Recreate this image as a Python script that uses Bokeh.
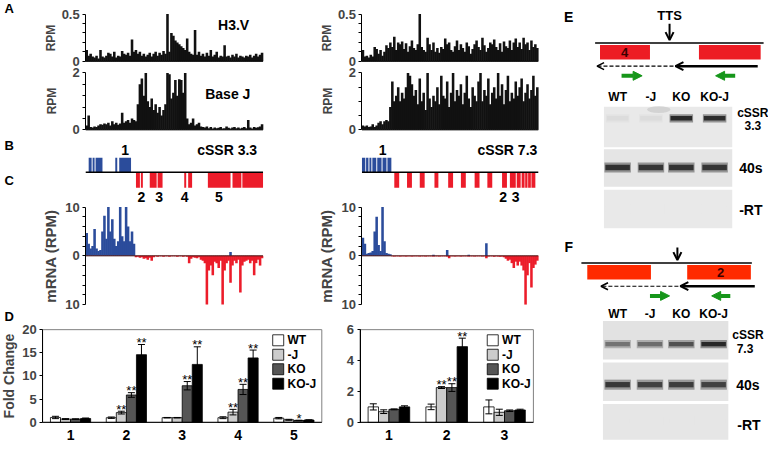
from bokeh.plotting import figure
from bokeh.models import (Range1d, LinearAxis, FixedTicker, Arrow, OpenHead, NormalHead)
from bokeh.embed import file_html
from bokeh.resources import INLINE
from bokeh.core.properties import value

FONT = "Liberation Sans"
BLUE = "#2b4c9b"
RED = "#ec1c2a"
GREEN = "#16961a"

# ---------------- DATA ----------------
# A: ChIP tracks, 90 bins each (RPM)
h3v_left = [0.12, 0.06, 0.08, 0.05, 0.04, 0.06, 0.03, 0.12, 0.05, 0.04,
            0.06, 0.09, 0.08, 0.05, 0.10, 0.04, 0.06, 0.05, 0.11, 0.08,
            0.07, 0.09, 0.06, 0.23, 0.10, 0.12, 0.08, 0.10, 0.06, 0.08,
            0.05, 0.07, 0.09, 0.05, 0.08, 0.10, 0.06, 0.09, 0.07, 0.11,
            0.08, 0.50, 0.10, 0.30, 0.27, 0.22, 0.20, 0.18, 0.16, 0.14,
            0.12, 0.24, 0.10, 0.08, 0.07, 0.33, 0.07, 0.10, 0.06, 0.08,
            0.05, 0.09, 0.06, 0.12, 0.05, 0.07, 0.10, 0.04, 0.06, 0.05,
            0.17, 0.05, 0.06, 0.04, 0.07, 0.05, 0.08, 0.04, 0.06, 0.05,
            0.04, 0.06, 0.05, 0.07, 0.04, 0.06, 0.08, 0.05, 0.07, 0.09]
basej_left = [0.15, 0.50, 0.10, 0.08, 0.12, 0.10, 0.15, 0.20, 0.18, 0.22,
              0.20, 0.25, 0.15, 0.30, 0.20, 0.25, 0.18, 0.22, 0.60, 0.25,
              0.30, 0.35, 0.25, 0.40, 0.35, 0.30, 0.90, 1.60, 1.80, 1.20,
              2.00, 1.00, 0.80, 1.10, 0.70, 0.90, 0.60, 0.80, 0.50, 0.70,
              0.90, 2.00, 1.95, 1.10, 1.30, 1.75, 1.20, 1.78, 1.75, 1.30,
              2.00, 0.40, 0.20, 0.25, 0.40, 0.15, 0.20, 0.25, 0.12, 0.10,
              0.08, 0.12, 0.06, 0.10, 0.05, 0.08, 0.06, 0.07, 0.10, 0.05,
              0.06, 0.12, 0.07, 0.05, 0.08, 0.10, 0.06, 0.08, 0.05, 0.07,
              0.10, 0.06, 0.35, 0.08, 0.05, 0.10, 0.07, 0.09, 0.12, 0.20]
h3v_right = [0.12, 0.05, 0.06, 0.04, 0.07, 0.05, 0.15, 0.13, 0.08, 0.12,
             0.06, 0.10, 0.17, 0.14, 0.20, 0.15, 0.26, 0.12, 0.20, 0.18,
             0.21, 0.13, 0.19, 0.10, 0.16, 0.22, 0.14, 0.12, 0.18, 0.50,
             0.15, 0.12, 0.10, 0.25, 0.18, 0.12, 0.20, 0.10, 0.14, 0.09,
             0.15, 0.13, 0.24, 0.18, 0.20, 0.12, 0.10, 0.16, 0.22, 0.12,
             0.18, 0.14, 0.10, 0.20, 0.16, 0.08, 0.13, 0.18, 0.22, 0.15,
             0.12, 0.25, 0.17, 0.10, 0.14, 0.20, 0.18, 0.23, 0.15, 0.12,
             0.19, 0.10, 0.21, 0.16, 0.14, 0.22, 0.12, 0.20, 0.24, 0.15,
             0.20, 0.13, 0.25, 0.18, 0.20, 0.12, 0.22, 0.15, 0.18, 0.14]
basej_right = [0.15, 0.12, 0.15, 0.10, 0.12, 0.20, 0.10, 0.15, 0.25, 0.30,
               0.20, 0.30, 0.35, 0.30, 0.80, 1.70, 1.00, 1.20, 1.50, 1.00,
               1.30, 1.10, 1.50, 2.00, 1.90, 1.60, 1.20, 1.40, 0.90, 1.80,
               1.00, 1.30, 0.70, 2.00, 1.10, 0.80, 1.20, 1.00, 1.50, 0.90,
               1.90, 1.20, 1.10, 1.70, 0.80, 1.30, 2.00, 1.00, 1.40, 1.20,
               1.60, 0.90, 1.30, 1.90, 1.10, 0.80, 1.50, 1.20, 1.00, 1.70,
               2.00, 1.00, 1.40, 1.20, 1.80, 0.90, 1.30, 1.50, 1.10, 2.00,
               1.20, 1.60, 0.90, 1.40, 1.90, 1.00, 1.30, 1.10, 1.70, 1.20,
               1.50, 1.80, 1.00, 1.30, 1.60, 1.10, 1.40, 1.90, 1.20, 1.50]

# B: gene maps (bin units). plus strand (blue, above), minus strand (red, below)
genes_left_plus_start = [1.5, 3.5, 5.0, 15.0, 17.0]
genes_left_plus_end = [3.0, 4.5, 8.5, 16.0, 23.0]
genes_left_minus_start = [25.5, 28.0, 32.5, 36.5, 50.0, 52.0, 62.0, 74.5, 79.5]
genes_left_minus_end = [27.5, 29.0, 36.0, 39.0, 51.0, 54.0, 73.5, 79.0, 90.0]
genes_right_plus_start = [0.0, 2.1, 3.8, 5.3, 7.8, 10.5, 13.0]
genes_right_plus_end = [1.7, 3.3, 4.8, 7.3, 10.0, 12.5, 15.0]
genes_right_minus_start = [16.5, 23.0, 29.5, 37.0, 44.0, 50.5, 57.5, 64.0, 71.5, 75.5, 79.0, 81.5, 83.3, 84.8, 86.5]
genes_right_minus_end = [19.0, 25.5, 32.0, 39.0, 46.5, 53.0, 60.0, 66.5, 74.0, 78.5, 81.0, 83.0, 84.5, 86.2, 88.5]
gene_left_names = ["1", "2", "3", "4", "5"]
gene_left_name_pos = [20.0, 28.3, 37.3, 50.2, 67.6]
gene_right_names = ["1", "2", "3"]
gene_right_name_pos = [10.5, 72.0, 78.5]

# C: mRNA tracks (RPM), plus (blue) and minus (red) strand, 90 bins
c_left_pos = [4.7, 2.5, 1.5, 2.0, 5.5, 1.5, 1.0, 1.2, 5.0, 8.2,
              3.5, 10.0, 5.0, 7.5, 3.5, 2.0, 3.0, 10.0, 4.0, 3.0,
              10.0, 6.0, 3.0, 5.0, 2.5, 0, 0, 0, 0, 0,
              0, 0, 0, 0, 0, 0, 0, 0, 0, 0,
              0, 0, 0, 0, 0, 0, 0, 0, 0, 0,
              0, 0, 0, 0, 0, 0, 0, 0, 0, 0,
              0, 0, 0, 0, 0, 0, 0, 0, 0, 0,
              0, 0, 0, 0.8, 0, 0, 0, 0, 0, 0,
              0, 0, 0, 0, 0, 0, 0, 0, 0, 0]
c_left_neg = [0, 0, 0, 0, 0, 0, 0, 0, 0, 0,
              0, 0, 0, 0, 0, 0, 0, 0, 0, 0,
              0, 0, 0, 0, 0, -0.3, -0.2, -0.4, -0.3, -0.6,
              -0.5, -0.8, -0.4, -1.0, -0.3, -0.1, -0.2, -0.1, -0.1, -0.2,
              -0.1, -0.1, -0.2, -0.1, -0.1, -0.1, -0.2, -0.1, -0.1, -0.2,
              -0.1, -0.2, -1.5, -0.6, -0.3, -0.4, -0.5, -0.3, -0.8, -1.0,
              -1.5, -10.0, -3.0, -2.0, -4.0, -1.2, -1.5, -2.5, -1.0, -10.0,
              -3.0, -1.5, -1.0, -5.5, -2.0, -1.0, -1.5, -0.8, -7.5, -2.0,
              -1.2, -1.0, -0.8, -1.5, -1.0, -4.0, -1.5, -0.8, -2.0, -0.5]
c_right_pos = [3.7, 2.5, 0.4, 0.6, 0.7, 1.0, 5.0, 8.0, 2.2, 1.0,
               10.0, 3.0, 0.6, 0.4, 0.3, 0, 0, 0, 0, 0,
               0, 0, 0, 0, 0, 0, 0, 0, 0, 0,
               0, 0, 0, 0, 0, 0, 0.2, 0, 0, 0,
               0, 0, 0, 1.2, 0, 0, 0, 0, 0, 0,
               0, 0, 0, 0, 0.2, 0, 0, 0, 0, 0,
               0, 0, 0, 2.6, 0, 0, 0, 0, 0, 0,
               0, 0, 0, 0, 0, 0, 0, 0, 0, 0,
               0, 0, 0, 0, 0, 0, 0, 0, 0, 0]
c_right_neg = [0, 0, 0, 0, 0, 0, 0, 0, 0, 0,
               0, 0, 0, 0, 0, -0.1, -0.15, -0.1, -0.1, -0.15,
               -0.1, -0.1, -0.15, -0.1, -0.1, -0.15, -0.1, -0.1, -0.1, -0.15,
               -0.1, -0.1, -0.15, -0.1, -0.1, -0.1, -0.15, -0.1, -0.1, -0.15,
               -0.1, -0.1, -0.1, -0.15, -0.5, -0.1, -0.1, -0.15, -0.1, -0.1,
               -0.15, -0.1, -0.1, -0.1, -0.15, -0.1, -0.1, -0.15, -0.1, -0.1,
               -0.1, -0.15, -0.1, -0.5, -0.15, -0.1, -0.1, -0.2, -0.1, -0.15,
               -0.2, -0.15, -0.3, -0.6, -1.0, -0.8, -1.5, -2.5, -1.2, -2.0,
               -1.2, -2.0, -3.0, -10.0, -4.0, -1.5, -6.5, -2.5, -1.8, -1.0]

# D: qRT-PCR fold change
series_names = ["WT", "-J", "KO", "KO-J"]
d_left_groups = ["1", "2", "3", "4", "5"]
d_left_wt = [1.05, 1.0, 1.0, 1.0, 0.9]
d_left_wt_err = [0.25, 0.15, 0.05, 0.2, 0.15]
d_left_j = [0.7, 2.1, 1.0, 2.2, 0.55]
d_left_j_err = [0.1, 0.3, 0.05, 0.6, 0.1]
d_left_ko = [0.7, 5.9, 7.9, 7.1, 0.4]
d_left_ko_err = [0.05, 0.5, 0.9, 1.1, 0.05]
d_left_koj = [0.83, 14.6, 12.5, 13.9, 0.5]
d_left_koj_err = [0.1, 2.2, 3.8, 1.7, 0.05]
d_left_stars_wt = ["", "", "", "", ""]
d_left_stars_j = ["", "**", "", "**", ""]
d_left_stars_ko = ["", "**", "**", "**", "*"]
d_left_stars_koj = ["", "**", "**", "**", ""]

d_right_groups = ["1", "2", "3"]
d_right_wt = [1.0, 1.0, 1.0]
d_right_wt_err = [0.2, 0.18, 0.45]
d_right_j = [0.69, 2.25, 0.65]
d_right_j_err = [0.12, 0.06, 0.2]
d_right_ko = [0.84, 2.25, 0.75]
d_right_ko_err = [0.03, 0.25, 0.05]
d_right_koj = [1.0, 4.9, 0.8]
d_right_koj_err = [0.07, 0.55, 0.05]
d_right_stars_wt = ["", "", ""]
d_right_stars_j = ["", "**", ""]
d_right_stars_ko = ["", "**", ""]
d_right_stars_koj = ["", "**", ""]

# E / F: RT-PCR gels (band intensity 0..1 per lane)
gel_lanes = ["WT", "-J", "KO", "KO-J"]
e_cssr_band = [0.06, 0.06, 0.92, 0.90]
e_40s_band = [0.88, 0.86, 0.87, 0.86]
e_rt_band = [0, 0, 0, 0]
f_cssr_band = [0.55, 0.58, 0.72, 0.92]
f_40s_band = [0.85, 0.80, 0.82, 0.80]
f_rt_band = [0, 0, 0, 0]

# ---------------- CANVAS ----------------
# one canvas laid out in the reference's pixel grid; every panel gets its own scales
W_REF, H_REF = 784, 461
p = figure(width=768, height=445, x_range=Range1d(0, W_REF), y_range=Range1d(H_REF, 0),
           x_axis_location=None, y_axis_location=None, output_backend="svg",
           toolbar_location=None, min_border=0)
p.outline_line_color = None
p.xgrid.visible = False
p.ygrid.visible = False
p.background_fill_color = "white"
p.border_fill_color = "white"


def xr(d0, d1, p0, p1):
    s = (d1 - d0) / (p1 - p0)
    return Range1d(d0 + (0 - p0) * s, d0 + (W_REF - p0) * s)


def yr(d0, d1, p0, p1):
    s = (d1 - d0) / (p1 - p0)
    return Range1d(d0 + (H_REF - p0) * s, d0 + (0 - p0) * s)


# panel frames (reference pixels)
p.extra_x_ranges = {
    "tl": xr(0, 90, 87, 268),      # left tracks
    "tr": xr(0, 90, 369, 549),     # right tracks
    "dl": xr(0.5, 5.5, 43, 328),   # left bar chart
    "dr": xr(0.5, 3.5, 367, 544),  # right bar chart
}
p.extra_y_ranges = {
    "a1": yr(0, 0.5, 63, 14),
    "a2": yr(0, 2, 134, 75),
    "b": yr(0, 1, 178, 163),
    "c": yr(-10, 10, 315, 214),
    "dly": yr(0, 20, 437, 341),
    "dry": yr(0, 6, 437, 341),
}


def txt(xs, ys, texts, size="13px", align="center", color="black", bold=True,
        xname="default", yname="default", baseline="middle", yoff=0):
    p.text(x=xs, y=ys, text=texts, text_font=value(FONT), text_font_size=size,
           text_font_style="bold" if bold else "normal", text_color=color,
           text_align=align, text_baseline=baseline, y_offset=yoff,
           x_range_name=xname, y_range_name=yname)


def yaxis(yname, xloc, lo, hi, ticks, labels, title=None, title_size="13px",
          title_standoff=3, tick_size="13px"):
    ax = LinearAxis(y_range_name=yname, fixed_location=xloc, bounds=(lo, hi),
                    ticker=FixedTicker(ticks=ticks),
                    major_label_overrides=dict(zip(ticks, labels)))
    ax.axis_line_color = "black"
    ax.axis_line_width = 1
    ax.major_tick_line_color = "black"
    ax.major_tick_out = 3
    ax.major_tick_in = 0
    ax.minor_tick_line_color = None
    ax.major_label_standoff = 3
    ax.major_label_text_font = FONT
    ax.major_label_text_font_style = "bold"
    ax.major_label_text_font_size = tick_size
    if title:
        ax.axis_label = title
        ax.axis_label_text_font = FONT
        ax.axis_label_text_font_style = "bold"
        ax.axis_label_text_font_size = title_size
        ax.axis_label_standoff = title_standoff
    p.add_layout(ax, "left")


def track(vals, color, xname, yname):
    xs = [i + 0.5 for i in range(len(vals))]
    p.vbar(x=xs, top=vals, bottom=0, width=1.3, fill_color=color, line_color=None,
           x_range_name=xname, y_range_name=yname)


def baseline(xname, yname, color="black", width=1.0):
    p.segment(x0=[0], y0=[0], x1=[90], y1=[0], line_color=color, line_width=width,
              x_range_name=xname, y_range_name=yname)


# panel letters
txt([9, 9, 9, 9], [8, 150, 186, 327], ["A", "B", "C", "D"], "13px")

# ---------------- A ----------------
for vals, xn, yn in ((h3v_left, "tl", "a1"), (h3v_right, "tr", "a1"),
                     (basej_left, "tl", "a2"), (basej_right, "tr", "a2")):
    track(vals, "#111111", xn, yn)
    baseline(xn, yn)
for xloc in (87, 369):
    yaxis("a1", xloc, 0, 0.5, [0, 0.1, 0.2, 0.3, 0.4, 0.5], ["0", "", "", "", "", "0.5"],
          "RPM", "12px", 0)
yaxis("a2", 87, 0, 2, [0, 0.4, 0.8, 1.2, 1.6, 2], ["0", "", "", "", "", "2"], "RPM", "12px", 10)
yaxis("a2", 369, 0, 2, [0, 0.5, 1, 1.5, 2], ["0", "", "", "", "2"], "RPM", "12px", 10)
txt([238], [25], ["H3.V"], "14px")
txt([232], [97], ["Base J"], "14px")

# ---------------- B ----------------
for xn, ps, pe, ms, me in (("tl", genes_left_plus_start, genes_left_plus_end,
                            genes_left_minus_start, genes_left_minus_end),
                           ("tr", genes_right_plus_start, genes_right_plus_end,
                            genes_right_minus_start, genes_right_minus_end)):
    p.quad(left=ps, right=pe, bottom=0, top=1.0, fill_color=BLUE, line_color=None,
           x_range_name=xn, y_range_name="b")
    p.quad(left=ms, right=me, bottom=-1.07, top=0, fill_color=RED, line_color=None,
           x_range_name=xn, y_range_name="b")
    baseline(xn, "b", width=1.4)
for names, pos, xn in ((gene_left_names, gene_left_name_pos, "tl"),
                       (gene_right_names, gene_right_name_pos, "tr")):
    ys = [1.53 if n == "1" else -1.67 for n in names]
    txt(pos, ys, names, "14px", xname=xn, yname="b")
txt([262], [155], ["cSSR 3.3"], "14px", align="right")
txt([548], [155], ["cSSR 7.3"], "14px", align="right")

# ---------------- C ----------------
c_ticks = [-10, -8, -6, -4, -2, 0, 2, 4, 6, 8, 10]
c_labels = ["10", "", "", "", "", "0", "", "", "", "", "10"]
for pos, neg, xn, xloc in ((c_left_pos, c_left_neg, "tl", 87),
                           (c_right_pos, c_right_neg, "tr", 369)):
    track(neg, RED, xn, "c")
    track(pos, BLUE, xn, "c")
    baseline(xn, "c", color="#4a1010")
    yaxis("c", xloc, -10, 10, c_ticks, c_labels, "mRNA (RPM)", "15px", 3)

# ---------------- D ----------------
SERIES_COLORS = ["#ffffff", "#cccccc", "#555555", "#000000"]
OFFS = [-0.27, -0.09, 0.09, 0.27]


def bar_chart(groups, vals, errs, stars, xn, yn, ymax, legend_x):
    n = len(groups)
    p.quad(left=[0.5], right=[n + 0.5], bottom=[0], top=[ymax],
           fill_color=None, line_color="#808080", line_width=1,
           x_range_name=xn, y_range_name=yn)
    for k in range(4):
        xs = [i + 1 + OFFS[k] for i in range(n)]
        up = [v + e for v, e in zip(vals[k], errs[k])]
        lo = [v - e for v, e in zip(vals[k], errs[k])]
        p.vbar(x=xs, top=vals[k], bottom=0, width=0.18, fill_color=SERIES_COLORS[k],
               line_color="black", line_width=0.8, x_range_name=xn, y_range_name=yn)
        p.segment(x0=xs, y0=lo, x1=xs, y1=up, line_color="black", line_width=1,
                  x_range_name=xn, y_range_name=yn)
        p.scatter(x=xs + xs, y=up + lo, marker="dash", size=7, line_color="black",
                  line_width=1, x_range_name=xn, y_range_name=yn)
        txt(xs, up, stars[k], "13px", bold=False, xname=xn, yname=yn,
            baseline="alphabetic", yoff=-2)
    # category axis: black base line and group labels
    p.segment(x0=[0.5], y0=[0], x1=[n + 0.5], y1=[0], line_color="black", line_width=1,
              x_range_name=xn, y_range_name=yn)
    txt([i + 1 for i in range(n)], [0] * n, groups, "14px", xname=xn, yname=yn, yoff=13)
    # legend keys
    ly = [352, 367, 382, 397]
    p.rect(x=[legend_x + 5.5] * 4, y=ly, width=11, height=11, width_units="screen",
           height_units="screen", fill_color=SERIES_COLORS, line_color="black", line_width=0.8)
    txt([legend_x + 15] * 4, ly, series_names, "12px", align="left")


bar_chart(d_left_groups,
          [d_left_wt, d_left_j, d_left_ko, d_left_koj],
          [d_left_wt_err, d_left_j_err, d_left_ko_err, d_left_koj_err],
          [d_left_stars_wt, d_left_stars_j, d_left_stars_ko, d_left_stars_koj],
          "dl", "dly", 20, 278)
bar_chart(d_right_groups,
          [d_right_wt, d_right_j, d_right_ko, d_right_koj],
          [d_right_wt_err, d_right_j_err, d_right_ko_err, d_right_koj_err],
          [d_right_stars_wt, d_right_stars_j, d_right_stars_ko, d_right_stars_koj],
          "dr", "dry", 6, 497)
yaxis("dly", 43, 0, 20, [0, 5, 10, 15, 20], ["0", "5", "10", "15", "20"],
      "Fold Change", "14px", 2)
yaxis("dry", 367, 0, 6, [0, 2, 4, 6], ["0", "2", "4", "6"])

# ---------------- E / F ----------------


def shade(bg, inten, frac=1.0):
    g = int(round(bg - (bg - 24) * inten * frac))
    return "#%02x%02x%02x" % (g, g, g)


def gel(lane_x, top, bottom, left, right, bg, band_vals, band_y, bw, bh):
    p.quad(left=[left], right=[right], top=[top], bottom=[bottom],
           fill_color=shade(bg, 0), line_color=None)
    halo = [shade(bg, v, 0.45) for v in band_vals]
    core = [shade(bg, v, 1.0) for v in band_vals]
    ys = [band_y for _ in band_vals]
    p.rect(x=lane_x, y=ys, width=bw + 2, height=bh * 1.9, fill_color=halo, line_color=None)
    p.rect(x=lane_x, y=ys, width=bw, height=bh, fill_color=core, line_color=None)


def diagram(y0, arrow_x, box_l, box_r, box_num, box_num_x, red, line_l, line_r,
            dash_l, dash_r, solid_r, g1, g2, arrow_top):
    p.add_layout(Arrow(x_start=arrow_x, y_start=arrow_top, x_end=arrow_x, y_end=y0 - 3,
                       line_width=2, end=OpenHead(size=8, line_width=2)))
    p.segment(x0=[line_l], y0=[y0], x1=[line_r], y1=[y0], line_color="black", line_width=1.6)
    p.quad(left=box_l, right=box_r, top=[y0 + 2, y0 + 2], bottom=[y0 + 17, y0 + 17],
           fill_color=red, line_color=None)
    txt([box_num_x], [y0 + 10], [box_num], "13px", color="#3b0000")
    ya = y0 + 24
    p.add_layout(Arrow(x_start=dash_r, y_start=ya, x_end=dash_l, y_end=ya, line_width=1.2,
                       line_dash="4 2", end=OpenHead(size=7, line_width=1.6)))
    p.add_layout(Arrow(x_start=solid_r, y_start=ya, x_end=dash_r + 2, y_end=ya, line_width=2.5,
                       end=OpenHead(size=8, line_width=2)))
    yg = y0 + 34
    for g in (g1, g2):
        p.add_layout(Arrow(x_start=g[0], y_start=yg, x_end=g[1], y_end=yg, line_color=GREEN,
                           line_width=4, end=NormalHead(size=9, fill_color=GREEN,
                                                        line_color=GREEN)))


# Panel E
txt([580], [17], ["E"], "14px")
txt([683], [16], ["TTS"], "13px")
diagram(44, 683, [612, 713], [663, 776], "4", 637, "#ed1c24", 607, 779,
        609, 687, 773, (634, 655), (750, 730), 24)
e_lane_x = [630, 664, 695, 729]
txt(e_lane_x, [100] * 4, gel_lanes, "12px")
gel(e_lane_x, 110, 152, 616, 747, 233, e_cssr_band, 122, 22, 4.5)
p.ellipse(x=[672], y=[113], width=24, height=7, fill_color="#cdcdcd", line_color=None,
          fill_alpha=0.8)
gel(e_lane_x, 154, 193, 616, 747, 229, e_40s_band, 173, 25, 5.5)
gel(e_lane_x, 196, 236, 616, 747, 233, e_rt_band, 216, 25, 5)
txt([768, 768], [117, 130], ["cSSR", "3.3"], "12px")
txt([766], [174], ["40s"], "14px")
txt([766], [217], ["-RT"], "14px")

# Panel F
txt([580], [255], ["F"], "14px")
diagram(272, 691, [599, 701], [664, 766], "2", 735, "#ff2a00", 593, 767,
        613, 692, 770, (663, 683), (745, 726), 256)
f_lane_x = [630, 663, 695, 728]
txt(f_lane_x, [325] * 4, gel_lanes, "12px")
gel(f_lane_x, 332, 372, 615, 743, 226, f_cssr_band, 356, 25, 4.5)
gel(f_lane_x, 375, 415, 615, 743, 229, f_40s_band, 398, 25, 5.5)
gel(f_lane_x, 418, 455, 615, 743, 230, f_rt_band, 436, 25, 5)
txt([763, 760], [347, 360], ["cSSR", "7.3"], "12px")
txt([763], [398], ["40s"], "14px")
txt([764], [440], ["-RT"], "14px")

open("out.html", "w").write(file_html(p, INLINE))
